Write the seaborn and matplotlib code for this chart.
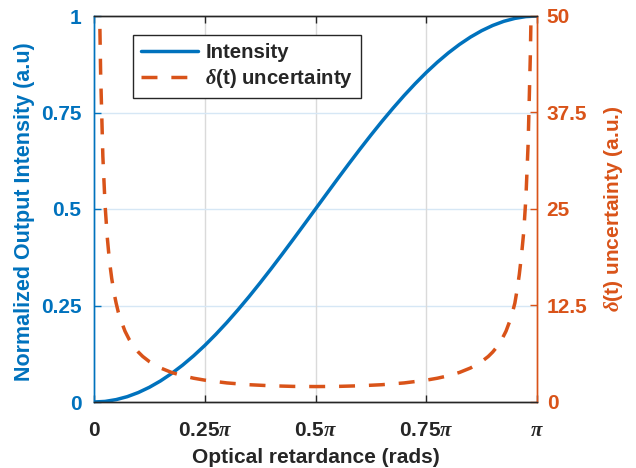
import numpy as np
import pandas as pd
import matplotlib
matplotlib.use("Agg")
import matplotlib.pyplot as plt
import seaborn as sns

# ---- data (x in units of pi) ----
x_int = [0, 0.025, 0.05, 0.075, 0.1, 0.125, 0.15, 0.175, 0.2, 0.225, 0.25,
         0.275, 0.3, 0.325, 0.35, 0.375, 0.4, 0.425, 0.45, 0.475, 0.5,
         0.525, 0.55, 0.575, 0.6, 0.625, 0.65, 0.675, 0.7, 0.725, 0.75,
         0.775, 0.8, 0.825, 0.85, 0.875, 0.9, 0.925, 0.95, 0.975, 1.0]
intensity = [0, 0.0015, 0.0062, 0.0138, 0.0245, 0.0381, 0.0545, 0.0737, 0.0955, 0.1198, 0.1464,
             0.1753, 0.2061, 0.2388, 0.2730, 0.3087, 0.3455, 0.3833, 0.4218, 0.4608, 0.5,
             0.5392, 0.5782, 0.6167, 0.6545, 0.6913, 0.7270, 0.7612, 0.7939, 0.8247, 0.8536,
             0.8802, 0.9045, 0.9263, 0.9455, 0.9619, 0.9755, 0.9862, 0.9938, 0.9985, 1.0]

x_unc = [0.012, 0.015, 0.02, 0.025, 0.03, 0.035, 0.04, 0.045, 0.05, 0.055, 0.06, 0.07,
         0.08, 0.09, 0.1, 0.11, 0.125, 0.15, 0.175, 0.2, 0.225, 0.25, 0.3, 0.35, 0.4,
         0.45, 0.5, 0.55, 0.6, 0.65, 0.7, 0.75, 0.775, 0.8, 0.825, 0.85, 0.875, 0.89,
         0.9, 0.91, 0.92, 0.93, 0.94, 0.945, 0.95, 0.955, 0.96, 0.965, 0.97, 0.975,
         0.98, 0.985, 0.988]
uncertainty = [53, 42.5, 31.8, 25.5, 21.3, 18.2, 16.0, 14.2, 12.8, 11.6, 10.7, 9.17,
               8.04, 7.17, 6.47, 5.90, 5.23, 4.41, 3.83, 3.40, 3.08, 2.83, 2.47, 2.24, 2.10,
               2.02, 2.0, 2.02, 2.10, 2.24, 2.47, 2.83, 3.08, 3.40, 3.83, 4.41, 5.23, 5.90,
               6.47, 7.17, 8.04, 9.17, 10.7, 11.7, 12.8, 14.5, 16.5, 19.0, 22.0, 26.5,
               33.5, 45.0, 55.0]

x_ticks = [0, 0.25, 0.5, 0.75, 1.0]
x_ticklabels = ["0", r"0.25$\pi$", r"0.5$\pi$", r"0.75$\pi$", r"$\pi$"]
left_ticks = [0, 0.25, 0.5, 0.75, 1]
left_ticklabels = ["0", "0.25", "0.5", "0.75", "1"]
right_ticks = [0, 12.5, 25, 37.5, 50]
right_ticklabels = ["0", "12.5", "25", "37.5", "50"]

BLUE = "#0072BD"
ORANGE = "#D95319"
DARK = "#262626"

sns.set_style("white")
plt.rcParams["font.family"] = ["Liberation Sans", "DejaVu Sans"]
plt.rcParams["font.weight"] = "bold"
plt.rcParams["mathtext.fontset"] = "custom"
plt.rcParams["mathtext.it"] = "Liberation Serif:italic"
plt.rcParams["mathtext.rm"] = "Liberation Sans:bold"

fig = plt.figure(figsize=(6.36, 4.68), dpi=100)
ax = fig.add_axes([94/636, 1-402/468, (537-94)/636, (402-16)/468])
ax2 = ax.twinx()

df_i = pd.DataFrame({"x": x_int, "y": intensity})
df_u = pd.DataFrame({"x": x_unc, "y": uncertainty})

fs_tick = 15
fs_leg = 14.7
sns.lineplot(data=df_i, x="x", y="y", ax=ax, color=BLUE, lw=2.5, label="Intensity", legend=False)
sns.lineplot(data=df_u, x="x", y="y", ax=ax2, color=ORANGE, lw=2.5, label=r"$\delta$(t) uncertainty",
             legend=False)
for l in ax2.get_lines():
    l.set_dashes((4.6, 4.0))
    l.set_dash_capstyle("butt")

ax.set_xlim(0, 1)
ax.set_ylim(0, 1)
ax2.set_ylim(0, 50)

# grid
for v in [0.25, 0.5, 0.75]:
    ax.axvline(v, color="#dadada", lw=1, zorder=0)
    ax.axhline(v, color="#d6e7f5", lw=1, zorder=0)

ax.set_xticks(x_ticks)
ax.set_xticklabels(x_ticklabels, fontsize=fs_tick, fontweight="bold", color=DARK)
ax.set_yticks(left_ticks)
ax.set_yticklabels(left_ticklabels, fontsize=fs_tick, fontweight="bold", color=BLUE)
ax2.set_yticks(right_ticks)
ax2.set_yticklabels(right_ticklabels, fontsize=fs_tick, fontweight="bold", color=ORANGE)

ax.tick_params(axis="x", direction="in", length=5, width=1, color=DARK, top=True, bottom=True, pad=14)
ax.tick_params(axis="y", direction="in", length=5, width=1, color=BLUE, left=True, pad=9)
ax2.tick_params(axis="y", direction="in", length=5, width=1, color=ORANGE, right=True, pad=7)

ax.set_xlabel("Optical retardance (rads)", fontsize=15, fontweight="bold", color=DARK)
ax.xaxis.set_label_coords(0.5, -0.12)
ax.set_ylabel("Normalized Output Intensity (a.u)", fontsize=15.5, fontweight="bold", color=BLUE)
ax.yaxis.set_label_coords(-0.133, 0.493)
ax2.set_ylabel(r"$\delta$(t) uncertainty (a.u.)", fontsize=15, fontweight="bold", color=ORANGE)
ax2.yaxis.set_label_coords(1.147, 0.5)

for a in (ax, ax2):
    a.spines["top"].set_color(DARK)
    a.spines["bottom"].set_color(DARK)
    a.spines["left"].set_color(BLUE)
    a.spines["right"].set_color(ORANGE)
    for s in a.spines.values():
        s.set_linewidth(1)
        s.set_visible(True)

h1, l1 = ax.get_legend_handles_labels()
h2, l2 = ax2.get_legend_handles_labels()
leg = ax2.legend(h1 + h2, l1 + l2, loc="upper left", bbox_to_anchor=(0.0874, 0.951),
                 fancybox=False, edgecolor=DARK, framealpha=1,
                 prop={"size": fs_leg, "weight": "bold"}, handlelength=2.8, handletextpad=0.35,
                 borderpad=0.4, borderaxespad=0, labelspacing=0.25)
leg.get_frame().set_linewidth(1)

fig.savefig("out.png", dpi=100)
